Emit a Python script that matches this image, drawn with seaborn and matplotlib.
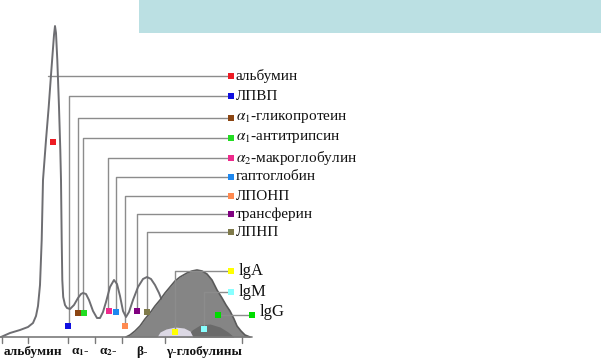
import numpy as np
import pandas as pd
import matplotlib
matplotlib.use("Agg")
import matplotlib.pyplot as plt
import seaborn as sns

# densitometry trace: mobility (x) and density above baseline (y)
trace_x = [1, 10, 20, 28, 33, 36, 38, 40, 41.7, 43, 46, 48.7, 51, 52.5, 54, 55, 56, 57.3, 59, 60.3,
           61, 61.7, 62.3, 63.2, 65, 67, 70, 74, 78, 81, 83, 86, 89, 93, 97, 100, 103, 106, 110,
           114, 117, 120, 123, 126, 129, 133, 138, 143, 147, 151, 155, 159, 163, 167]
trace_y = [0, 4, 7, 10, 14, 21, 31, 52, 97, 157, 197, 230, 262, 282, 302, 311, 304, 277, 230, 187,
           157, 97, 57, 40, 32, 29, 28, 32, 39, 43, 44, 43, 37, 26, 19, 19, 25, 35, 50,
           57, 53, 41, 26, 20, 25, 37, 50, 58, 60, 58, 52, 44, 34, 23]

# gamma-globulin zone
gamma_x = [126, 130, 135, 140, 145, 150, 155, 160, 165, 170, 175, 180, 187, 192, 197, 202, 207,
           212, 217, 222, 226, 230, 234, 237, 241, 245, 250]
gamma_y = [0, 2, 6, 11, 18, 24, 31, 37, 44, 50, 56, 60, 64, 66, 67, 66, 63, 57, 47, 39, 32,
           26, 18, 11, 6, 2, 0]
light_x = [157, 160, 166, 175, 184, 190, 193]
light_y = [0, 5, 8, 10, 9, 6, 0]
dark_x = [186, 192, 200, 210, 220, 228, 234]
dark_y = [0, 7, 12, 13, 10, 5, 0]

# fractions with markers on the trace, leader rows and label markers
labels = ["альбумин", "ЛПВП", r"$\alpha_1$-гликопротеин", r"$\alpha_1$-антитрипсин",
          r"$\alpha_2$-макроглобулин", "гаптоглобин", "ЛПОНП", "трансферин", "ЛПНП"]
colors = ["#ee1c24", "#1010e0", "#8b4513", "#22dd22", "#ee2a8c", "#1e88f0",
          "#ff8a50", "#800080", "#7f7a4a"]
point_x = [53, 68, 78, 84, 109, 116, 125, 137, 147]
point_y = [195, 11, 24, 24, 26, 25, 11, 26, 25]
stem_x = [48, 69, 78, 83, 108, 116, 125, 137, 147]
label_y = [261, 241, 219, 199, 179, 160, 141, 123, 105]

ig_labels = ["lgA", "lgM", "lgG"]
ig_colors = ["#ffff00", "#88ffff", "#00dd00"]
ig_point_x = [175, 204, 218]
ig_point_y = [5, 8, 22]
ig_row = [66, 45, 22]
ig_marker_x = [231, 231, 252]

# bottom zone names and tick positions
zone_names = ["альбумин", r"α$\mathbf{_1}$-", r"α$\mathbf{_2}$-", "β-", "γ-глобулины"]
zone_x = [33, 80, 108, 142, 204]
tick_x = [2, 28, 68, 95, 122, 165, 242]

sns.set_theme(style="white")
plt.rcParams["font.family"] = ["Liberation Serif", "DejaVu Serif"]
plt.rcParams["mathtext.fontset"] = "stix"

fig = plt.figure(figsize=(6.01, 3.60), dpi=100)
ax = fig.add_axes([0, 0, 1, 1])
ax.set_xlim(0, 601)
ax.set_ylim(-23, 337)
ax.axis("off")

# header band
ax.add_patch(plt.Rectangle((139, 304), 462, 33, color="#bbe0e3", lw=0, zorder=0))

line_c = "#8c8c8c"
# leader lines
for i in range(len(labels)):
    if i == 0:
        ax.plot([stem_x[i], 231], [label_y[i], label_y[i]], color=line_c, lw=1, zorder=1)
    else:
        ax.plot([stem_x[i], stem_x[i], 231], [point_y[i] + 3, label_y[i], label_y[i]],
                color=line_c, lw=1, zorder=1)
for i in range(len(ig_labels)):
    if i < 2:
        ax.plot([ig_point_x[i], ig_point_x[i], ig_marker_x[i]],
                [ig_point_y[i], ig_row[i], ig_row[i]], color=line_c, lw=1, zorder=4)
    else:
        ax.plot([ig_point_x[i], ig_marker_x[i]], [ig_row[i], ig_row[i]],
                color=line_c, lw=1, zorder=4)

# trace
sns.lineplot(x=trace_x, y=trace_y, sort=False, estimator=None, color="#6e6e72",
             lw=1.4, ax=ax, zorder=2)

# gamma zone
ax.fill_between(gamma_x, 0, gamma_y, color="#858585", lw=0, zorder=3)
ax.plot(gamma_x, gamma_y, color="#5a5a5a", lw=1.2, zorder=3)
ax.fill_between(dark_x, 0, dark_y, color="#6a6a6a", lw=0, zorder=3)
ax.fill_between(light_x, 0, light_y, color="#dcd8e4", lw=0, zorder=3)

# baseline and ticks
ax.plot([0, 252], [0, 0], color="#7a7a7a", lw=1.2, zorder=3)
for t in tick_x:
    ax.plot([t, t], [0, -6], color="#7a7a7a", lw=1, zorder=3)

# markers on the trace and at the labels
pts = pd.DataFrame({"x": point_x + ig_point_x, "y": point_y + ig_point_y,
                    "c": colors + ig_colors})
sns.scatterplot(data=pts, x="x", y="y", hue="c", palette=dict(zip(pts.c, pts.c)),
                marker="s", s=24, linewidth=0, legend=False, ax=ax, zorder=5)
lab = pd.DataFrame({"x": [231] * len(labels) + ig_marker_x, "y": label_y + ig_row,
                    "c": colors + ig_colors})
sns.scatterplot(data=lab, x="x", y="y", hue="c", palette=dict(zip(lab.c, lab.c)),
                marker="s", s=24, linewidth=0, legend=False, ax=ax, zorder=5)

for name, y in zip(labels, label_y):
    ax.text(236, y, name, fontsize=11, va="center", ha="left", color="#111111")
for name, mx, y in zip(ig_labels, ig_marker_x, ig_row):
    ax.text(mx + 8, y + (3 if name == "lgG" else 0), name, fontsize=12, va="center",
            ha="left", color="#111111")

for name, x in zip(zone_names, zone_x):
    ax.text(x, -15, name, fontsize=9.5, fontweight="bold", va="center", ha="center",
            color="#111111")

fig.savefig("out.png", dpi=100)
